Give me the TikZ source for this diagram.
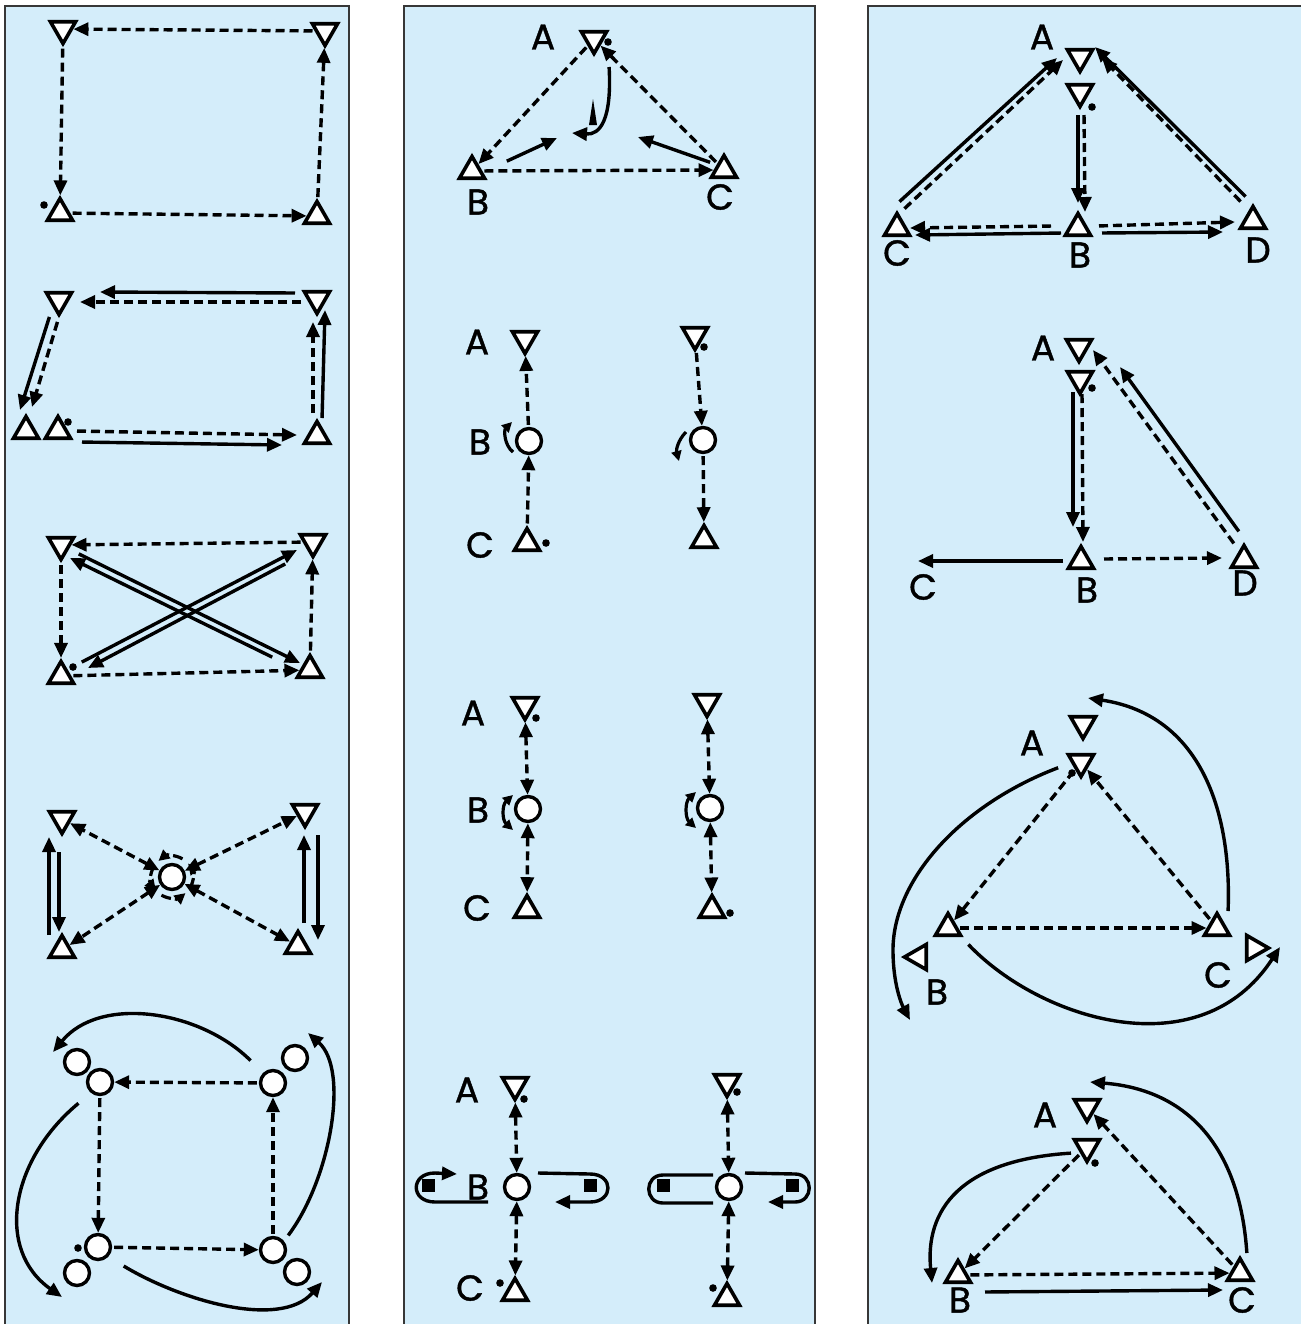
\documentclass[tikz,border=0pt]{standalone}
\usepackage{fontspec}
\setmainfont{Poppins}
\newfontfamily\lblfont{Poppins}[FakeBold=1.2]
\usetikzlibrary{shapes.geometric,arrows.meta}
\definecolor{panelblue}{RGB}{212,237,250}
\definecolor{paneledge}{RGB}{55,55,55}

\begin{document}
\begin{tikzpicture}[x=0.5pt,y=-0.5pt,
    >={Triangle[length=7.5pt,width=6.5pt]},
    panel/.style={draw=paneledge,line width=0.7pt,fill=panelblue},
    trinode/.style={regular polygon,regular polygon sides=3,draw,fill=white,line width=1.8pt,minimum size=14.5pt,inner sep=0pt},
    dtri/.style={trinode,shape border rotate=180},
    utri/.style={trinode},
    ltri/.style={trinode,shape border rotate=90},
    rtri/.style={trinode,shape border rotate=-90},
    stn/.style={circle,draw,fill=white,line width=1.7pt,minimum size=12.5pt,inner sep=0pt},
    pip/.style={circle,fill,inner sep=0pt,minimum size=3.8pt},
    blk/.style={fill,inner sep=0pt,minimum size=6.5pt},
    lbl/.style={font=\lblfont\fontsize{18}{18}\selectfont,inner sep=0pt},
    sar/.style={->,line width=1.7pt,shorten <=1pt},
    dar/.style={sar,dash pattern=on 4.5pt off 2.5pt},
    dbar/.style={dar,<->,shorten <=0pt},
    curl/.style={-{Triangle[length=5pt,width=5pt]},line width=1.6pt},
    dcurl/.style={curl,{Triangle[length=5pt,width=5pt]}-{Triangle[length=5pt,width=5pt]}},
    ring/.style={-{Triangle[length=5.5pt,width=5.5pt]},line width=1.6pt,dash pattern=on 5pt off 2pt},
    lp/.style={line width=1.7pt}
]
    \useasboundingbox (0,0) rectangle (1301,1324);
    % Panels
    \draw[panel] (5,6) rectangle (349,1340);
    \draw[panel] (404,6) rectangle (815,1340);
    \draw[panel] (868,6) rectangle (1310,1340);

    % ---------------- Left column ----------------
    % L1: dashed square
    \node[dtri] (l1a) at (63,29) {};
    \node[dtri] (l1b) at (325,31) {};
    \node[utri] (l1c) at (60,213) {};
    \node[utri] (l1d) at (317,216) {};
    \node[pip] (l1p) at (44,205) {};
    \draw[dar] (l1b) -- (l1a);
    \draw[dar] (l1a) -- (l1c);
    \draw[dar] (l1c) -- (l1d);
    \draw[dar] (l1d) -- (l1b);

    % L2: doubled square
    \node[dtri] (l2a) at (59,300) {};
    \node[dtri] (l2b) at (317,299) {};
    \node[utri] (l2c) at (26,431) {};
    \node[utri] (l2e) at (58,431) {};
    \node[pip] (l2p) at (68,422) {};
    \node[utri] (l2d) at (317,436) {};
    \draw[sar] ([shift={(-20,-6)}]l2b.center) -- ([shift={(41,-8)}]l2a.center);
    \draw[dar] ([shift={(-14,3)}]l2b.center) -- ([shift={(21,2)}]l2a.center);
    \draw[sar] ([shift={(-9,15)}]l2a.center) -- ([shift={(-6,-21)}]l2c.center);
    \draw[dar] ([shift={(-1,20)}]l2a.center) -- ([shift={(6,-24)}]l2c.center);
    \draw[dar] ([shift={(17,0)}]l2e.center) -- ([shift={(-20,-1)}]l2d.center);
    \draw[sar] ([shift={(22,11)}]l2e.center) -- ([shift={(-35,9)}]l2d.center);
    \draw[dar] ([shift={(-4,-21)}]l2d.center) -- ([shift={(-4,23)}]l2b.center);
    \draw[sar] ([shift={(5,-16)}]l2d.center) -- ([shift={(8,11)}]l2b.center);

    % L3: square with crossed pairs
    \node[dtri] (l3a) at (61,545) {};
    \node[dtri] (l3b) at (313,542) {};
    \node[utri] (l3c) at (61,676) {};
    \node[pip] (l3p) at (73,667) {};
    \node[utri] (l3d) at (310,670) {};
    \draw[dar] (l3b) -- (l3a);
    \draw[dar] (l3a) -- (l3c);
    \draw[dar] (l3c) -- (l3d);
    \draw[dar] (l3d) -- (l3b);
    \draw[sar] ([shift={(19,-13)}]l3c.center) -- ([shift={(-16,8)}]l3b.center);
    \draw[sar] ([shift={(-26,21)}]l3b.center) -- ([shift={(27,-8)}]l3c.center);
    \draw[sar] ([shift={(16,8)}]l3a.center) -- ([shift={(-10,-7)}]l3d.center);
    \draw[sar] ([shift={(-36,-12)}]l3d.center) -- ([shift={(9,13)}]l3a.center);

    % L4: bow tie around a station
    \node[dtri] (l4a) at (62,819) {};
    \node[utri] (l4c) at (62,950) {};
    \node[dtri] (l4b) at (305,812) {};
    \node[utri] (l4d) at (298,946) {};
    \node[stn] (l4s) at (172,877) {};
    \draw[dbar] (l4s) -- (l4a);
    \draw[dbar] (l4s) -- (l4b);
    \draw[dbar] (l4s) -- (l4c);
    \draw[dbar] (l4s) -- (l4d);
    \foreach \s/\e in {300/230,210/140,120/50,30/-40}
        \draw[ring] ([shift={(\s:21)}]l4s.center) arc[start angle=\s,end angle=\e,radius=21];
    \draw[sar] ([shift={(-13,-13)}]l4c.center) -- ([shift={(-13,18)}]l4a.center);
    \draw[sar] ([shift={(-3,31)}]l4a.center) -- ([shift={(-3,-18)}]l4c.center);
    \draw[sar] ([shift={(6,-21)}]l4d.center) -- ([shift={(-1,23)}]l4b.center);
    \draw[sar] ([shift={(13,21)}]l4b.center) -- ([shift={(20,-6)}]l4d.center);

    % L5: four station pairs
    \node[stn] (l5ao) at (77,1062) {};
    \node[stn] (l5a) at (100,1082) {};
    \node[stn] (l5b) at (273,1083) {};
    \node[stn] (l5bo) at (295,1058) {};
    \node[stn] (l5c) at (98,1247) {};
    \node[stn] (l5co) at (77,1273) {};
    \node[stn] (l5d) at (273,1250) {};
    \node[stn] (l5do) at (297,1272) {};
    \node[pip] (l5p) at (78,1248) {};
    \draw[dar] (l5b) -- (l5a);
    \draw[dar] (l5a) -- (l5c);
    \draw[dar] (l5c) -- (l5d);
    \draw[dar] (l5d) -- (l5b);
    \draw[sar] ([shift={(-21,-21)}]l5b.center) .. controls (200,1010) and (100,995) .. ([shift={(-24,-10)}]l5ao.center);
    \draw[sar] ([shift={(14,-13)}]l5d.center) .. controls (330,1180) and (350,1070) .. ([shift={(13,-25)}]l5bo.center);
    \draw[sar] ([shift={(-20,20)}]l5a.center) .. controls (10,1160) and (-5,1250) .. ([shift={(-15,24)}]l5co.center);
    \draw[sar] ([shift={(24,18)}]l5c.center) .. controls (180,1300) and (280,1330) .. ([shift={(25,10)}]l5do.center);

    % ---------------- Middle column ----------------
    % M1: triangle A, B, C
    \node[dtri] (m1a) at (594,39) {};
    \node[pip] (m1p) at (608,42) {};
    \node[lbl] (m1al) at (543,37) {A};
    \node[utri] (m1b) at (472,171) {};
    \node[lbl] (m1bl) at (478,202) {B};
    \node[utri] (m1c) at (724,170) {};
    \node[lbl] (m1cl) at (720,197) {C};
    \coordinate (m1u) at (557,138);
    \coordinate (m1v) at (638,137);
    \coordinate (m1w) at (572,133);
    \draw[dar] (m1a) -- (m1b);
    \draw[dar] (m1c) -- (m1a);
    \draw[dar] (m1b) -- (m1c);
    \draw[sar] ([shift={(33,-9)}]m1b.center) -- (m1u);
    \draw[sar] ([shift={(-12,-7)}]m1c.center) -- (m1v);
    \draw[sar] ([shift={(15,26)}]m1a.center) .. controls (612,120) and (600,135) .. (m1w);
    \fill (589,125) -- (593,99) -- (597,125) -- cycle;

    % M2: chains with one rotation
    \node[dtri] (m2a) at (525,339) {};
    \node[lbl] (m2al) at (477,342) {A};
    \node[stn] (m2b) at (529,441) {};
    \node[lbl] (m2bl) at (480,442) {B};
    \node[utri] (m2c) at (527,543) {};
    \node[pip] (m2p) at (546,543) {};
    \node[lbl] (m2cl) at (480,545) {C};
    \draw[dar] (m2b) -- (m2a);
    \draw[dar] (m2c) -- (m2b);
    \draw[curl] ([shift={(-16,11)}]m2b.center) .. controls (504,445) and (504,430) .. ([shift={(-17,-19)}]m2b.center);
    \node[dtri] (m2d) at (695,335) {};
    \node[pip] (m2q) at (704,347) {};
    \node[stn] (m2e) at (703,440) {};
    \node[utri] (m2f) at (704,540) {};
    \draw[dar] (m2d) -- (m2e);
    \draw[dar] (m2e) -- (m2f);
    \draw[curl] ([shift={(-17,-8)}]m2e.center) .. controls (678,440) and (676,450) .. ([shift={(-24,21)}]m2e.center);

    % M3: two-way chains
    \node[dtri] (m3a) at (525,705) {};
    \node[pip] (m3p) at (536,718) {};
    \node[lbl] (m3al) at (473,713) {A};
    \node[stn] (m3b) at (528,809) {};
    \node[lbl] (m3bl) at (478,810) {B};
    \node[utri] (m3c) at (527,910) {};
    \node[lbl] (m3cl) at (477,908) {C};
    \draw[dbar] (m3a) -- (m3b);
    \draw[dbar] (m3b) -- (m3c);
    \draw[dcurl] ([shift={(-15,-14)}]m3b.center) .. controls (502,805) and (502,820) .. ([shift={(-15,21)}]m3b.center);
    \node[dtri] (m3d) at (707,702) {};
    \node[stn] (m3e) at (710,808) {};
    \node[utri] (m3f) at (712,910) {};
    \node[pip] (m3q) at (730,913) {};
    \draw[dbar] (m3d) -- (m3e);
    \draw[dbar] (m3e) -- (m3f);
    \draw[dcurl] ([shift={(-14,-16)}]m3e.center) .. controls (685,802) and (685,818) .. ([shift={(-14,20)}]m3e.center);

    % M4: two-way chains with loops
    \node[dtri] (m4a) at (515,1085) {};
    \node[pip] (m4p) at (524,1099) {};
    \node[lbl] (m4al) at (467,1090) {A};
    \node[stn] (m4b) at (517,1187) {};
    \node[lbl] (m4bl) at (478,1187) {B};
    \node[utri] (m4c) at (515,1293) {};
    \node[pip] (m4q) at (500,1283) {};
    \node[lbl] (m4cl) at (470,1288) {C};
    \node[blk] (m4s) at (428,1185) {};
    \node[blk] (m4t) at (590,1185) {};
    \draw[dbar] (m4a) -- (m4b);
    \draw[dbar] (m4b) -- (m4c);
    \draw[lp,->] ([shift={(60,17)}]m4s.center) -- (435,1202) .. controls (410,1202) and (410,1173) .. (435,1173) -- ([shift={(29,-11)}]m4s.center);
    \draw[lp,->] ([shift={(-52,-12)}]m4t.center) -- (590,1174) .. controls (614,1174) and (614,1202) .. (590,1202) -- ([shift={(-35,17)}]m4t.center);
    \node[dtri] (m4d) at (727,1082) {};
    \node[pip] (m4r) at (737,1092) {};
    \node[stn] (m4e) at (729,1187) {};
    \node[utri] (m4f) at (727,1298) {};
    \node[pip] (m4o) at (713,1288) {};
    \node[blk] (m4u) at (663,1185) {};
    \node[blk] (m4v) at (792,1185) {};
    \draw[dbar] (m4d) -- (m4e);
    \draw[dbar] (m4e) -- (m4f);
    \draw[lp] ([shift={(50,-10)}]m4u.center) -- (663,1175) .. controls (644,1175) and (644,1203) .. (663,1203) -- ([shift={(50,18)}]m4u.center);
    \draw[lp,->] ([shift={(-47,-12)}]m4v.center) -- (795,1174) .. controls (814,1174) and (814,1202) .. (795,1202) -- ([shift={(-24,17)}]m4v.center);

    % ---------------- Right column ----------------
    % R1: A, B, C, D doubled
    \node[dtri] (r1a) at (1080,57) {};
    \node[lbl] (r1al) at (1042,37) {A};
    \node[dtri] (r1e) at (1080,92) {};
    \node[pip] (r1p) at (1092,107) {};
    \node[utri] (r1c) at (897,228) {};
    \node[lbl] (r1cl) at (897,253) {C};
    \node[utri] (r1b) at (1078,228) {};
    \node[lbl] (r1bl) at (1080,255) {B};
    \node[utri] (r1d) at (1253,221) {};
    \node[lbl] (r1dl) at (1258,250) {D};
    \draw[sar] ([shift={(1,-25)}]r1c.center) -- ([shift={(-23,1)}]r1a.center);
    \draw[dar] ([shift={(6,-18)}]r1c.center) -- ([shift={(-17,3)}]r1a.center);
    \draw[sar] ([shift={(-6,-23)}]r1d.center) -- ([shift={(15,-10)}]r1a.center);
    \draw[dar] ([shift={(-11,-18)}]r1d.center) -- ([shift={(22,1)}]r1a.center);
    \draw[sar] ([shift={(-2,21)}]r1e.center) -- ([shift={(0,-25)}]r1b.center);
    \draw[dar] ([shift={(4,21)}]r1e.center) -- ([shift={(7,-16)}]r1b.center);
    \draw[dar] ([shift={(-25,-2)}]r1b.center) -- ([shift={(13,0)}]r1c.center);
    \draw[sar] ([shift={(-15,5)}]r1b.center) -- ([shift={(18,7)}]r1c.center);
    \draw[dar] ([shift={(19,-2)}]r1b.center) -- ([shift={(-18,1)}]r1d.center);
    \draw[sar] ([shift={(22,5)}]r1b.center) -- ([shift={(-30,11)}]r1d.center);

    % R2: A, B, D and C
    \node[dtri] (r2a) at (1079,347) {};
    \node[lbl] (r2al) at (1043,348) {A};
    \node[dtri] (r2e) at (1080,379) {};
    \node[pip] (r2p) at (1092,388) {};
    \node[utri] (r2b) at (1081,561) {};
    \node[lbl] (r2bl) at (1087,590) {B};
    \node[utri] (r2d) at (1244,560) {};
    \node[lbl] (r2dl) at (1245,583) {D};
    \node[lbl] (r2cl) at (923,587) {C};
    \draw[sar] ([shift={(-7,11)}]r2e.center) -- ([shift={(-8,-34)}]r2b.center);
    \draw[dar] ([shift={(2,13)}]r2e.center) -- ([shift={(2,-19)}]r2b.center);
    \draw[sar] ([shift={(-4,-27)}]r2d.center) -- ([shift={(41,20)}]r2a.center);
    \draw[dar] ([shift={(-9,-15)}]r2d.center) -- ([shift={(14,3)}]r2a.center);
    \draw[sar] ([shift={(-16,0)}]r2b.center) -- ([shift={(-5,-26)}]r2cl.center);
    \draw[dar] ([shift={(21,-2)}]r2b.center) -- ([shift={(-22,-2)}]r2d.center);

    % R3: triangle with outer arcs
    \node[dtri] (r3a) at (1083,724) {};
    \node[dtri] (r3e) at (1081,762) {};
    \node[pip] (r3p) at (1072,773) {};
    \node[lbl] (r3al) at (1032,743) {A};
    \node[utri] (r3b) at (948,928) {};
    \node[ltri] (r3f) at (919,957) {};
    \node[lbl] (r3bl) at (937,992) {B};
    \node[utri] (r3c) at (1217,928) {};
    \node[rtri] (r3g) at (1254,948) {};
    \node[lbl] (r3cl) at (1218,975) {C};
    \draw[dar] (r3e) -- (r3b);
    \draw[dar] (r3c) -- (r3e);
    \draw[dar] (r3b) -- (r3c);
    \draw[sar] ([shift={(-21,5)}]r3e.center) .. controls (960,805) and (893,880) .. (893,950) .. controls (893,985) and (902,1005) .. ([shift={(-9,63)}]r3f.center);
    \draw[sar] ([shift={(11,-15)}]r3c.center) .. controls (1232,810) and (1200,715) .. ([shift={(5,-26)}]r3a.center);
    \draw[sar] ([shift={(19,15)}]r3b.center) .. controls (1040,1020) and (1200,1070) .. ([shift={(26,-1)}]r3g.center);

    % R4: triangle with two arcs
    \node[dtri] (r4a) at (1087,1107) {};
    \node[lbl] (r4al) at (1045,1115) {A};
    \node[dtri] (r4e) at (1087,1147) {};
    \node[pip] (r4p) at (1095,1163) {};
    \node[utri] (r4b) at (958,1275) {};
    \node[lbl] (r4bl) at (960,1300) {B};
    \node[utri] (r4c) at (1240,1273) {};
    \node[lbl] (r4cl) at (1242,1300) {C};
    \draw[dar] (r4e) -- (r4b);
    \draw[dar] (r4c) -- (r4a);
    \draw[dar] (r4b) -- (r4c);
    \draw[sar] ([shift={(-14,6)}]r4e.center) .. controls (960,1160) and (925,1210) .. ([shift={(-26,8)}]r4b.center);
    \draw[sar] ([shift={(7,-18)}]r4c.center) .. controls (1240,1150) and (1190,1090) .. ([shift={(3,-25)}]r4a.center);
    \draw[sar] ([shift={(25,17)}]r4b.center) -- ([shift={(-17,17)}]r4c.center);
\end{tikzpicture}
\end{document}
